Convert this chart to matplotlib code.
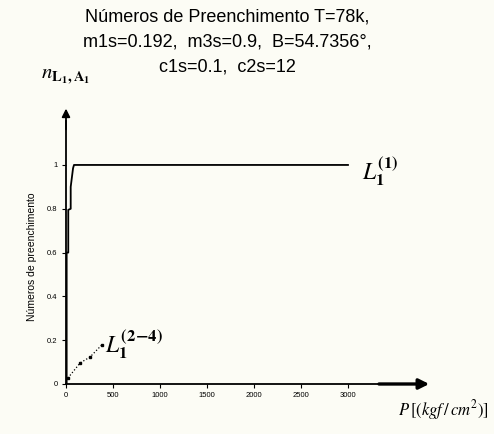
import matplotlib
matplotlib.use("Agg")
import matplotlib.pyplot as plt

plt.rcParams['mathtext.fontset'] = 'stix'
plt.rcParams['font.family'] = ['Liberation Sans', 'DejaVu Sans']

# curva L1(1): sobe rapido ate 1 e fica constante
p_l1 = [0, 7, 7, 24, 24, 50, 50, 75, 85, 3000]
n_l1 = [0, 0.0, 0.60, 0.60, 0.795, 0.80, 0.90, 0.985, 1.0, 1.0]

# curva L1(2-4): pontilhada com marcadores
p_l24 = [20, 150, 255, 380]
n_l24 = [0.027, 0.096, 0.123, 0.178]

xticks = [0, 500, 1000, 1500, 2000, 2500, 3000]
yticks = [0, 0.2, 0.4, 0.6, 0.8, 1]
ytick_labels = ['0', '0.2', '0.4', '0.6', '0.8', '1']

bg = '#fcfcf5'
fig = plt.figure(figsize=(4.94, 4.34), dpi=100, facecolor=bg)
ax = fig.add_axes([66 / 494, 50 / 434, 366 / 494, 276 / 434])
ax.set_facecolor(bg)
ax.set_xlim(0, 3894)
ax.set_ylim(0, 1.26)

for s in ['top', 'right', 'left', 'bottom']:
    ax.spines[s].set_visible(False)

# eixos com setas
ax.plot([0, 0], [0, 1.2], color='black', lw=1.3, clip_on=False)
ax.plot([0, 3400], [0, 0], color='black', lw=1.3, clip_on=False)
ax.annotate('', xy=(3894, 0), xytext=(3300, 0),
            arrowprops=dict(arrowstyle='-|>', color='black', lw=2.4,
                            mutation_scale=15), annotation_clip=False)
ax.annotate('', xy=(0, 1.27), xytext=(0, 1.15),
            arrowprops=dict(arrowstyle='-|>', color='black', lw=1.3,
                            mutation_scale=12), annotation_clip=False)

ax.set_xticks(xticks)
ax.set_xticklabels([str(v) for v in xticks], fontsize=5.5)
ax.set_yticks(yticks)
ax.set_yticklabels(ytick_labels, fontsize=5.5)
ax.tick_params(length=3, width=0.8, pad=3)

ax.plot(p_l1, n_l1, color='black', lw=1.3)
ax.plot(p_l24, n_l24, color='black', lw=0.9, ls=':', marker='s', ms=2)

ax.text(3150, 0.97, r'$\mathbf{\mathit{L}_1^{(1)}}$', fontsize=17, va='center')
ax.text(410, 0.18, r'$\mathbf{\mathit{L}_1^{(2\!-\!4)}}$', fontsize=17, va='center')

fig.text(0.5 * (78 + 376) / 494, 1 - 9 / 434,
         'Números de Preenchimento T=78k,\nm1s=0.192,  m3s=0.9,  B=54.7356°,\nc1s=0.1,  c2s=12',
         ha='center', va='top', fontsize=13, linespacing=1.6)

fig.text(66 / 494, 1 - 77 / 434, r'$\mathbf{\mathit{n}_{L_1,A_1}}$', fontsize=15,
         va='center', ha='center')
fig.text(32 / 494, 1 - 257 / 434, 'Números de preenchimento', rotation=90,
         fontsize=7.5, ha='center', va='center')
fig.text(398 / 494, 1 - 410 / 434, r'$P\,[(kgf\,/\,cm^2)]$', fontsize=12,
         ha='left', va='center')

fig.savefig('out.png', dpi=100, facecolor=bg)
